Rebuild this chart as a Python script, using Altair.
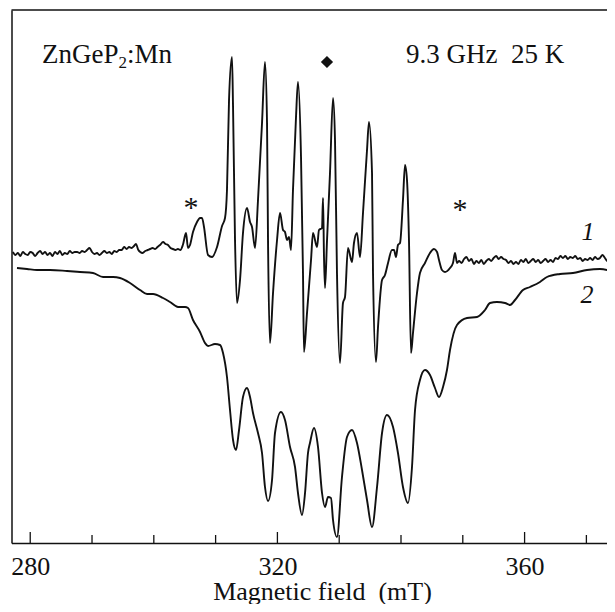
import altair as alt
import pandas as pd

# ---- data (field in mT, signal in arbitrary units) ----
curve1 = [
    (277.2, 0.8), (277.6, 0.5), (278.0, 0.7), (278.4, 0.4), (278.8, 0.8), (279.2, 0.6),
    (279.6, 0.5), (280.0, 0.8), (280.4, 0.7), (280.8, 0.4), (281.2, 0.7), (281.6, 0.9),
    (282.0, 0.6), (282.4, 0.8), (282.8, 0.5), (283.2, 0.7), (283.6, 0.4), (284.0, 0.8),
    (284.4, 0.6), (284.8, 0.9), (285.2, 0.5), (285.6, 0.7), (286.0, 0.6), (286.4, 0.9),
    (286.8, 0.7), (287.2, 0.8), (287.6, 0.8), (288.0, 0.7), (288.4, 0.9), (288.8, 0.8),
    (289.2, 1.0), (289.6, 1.2), (290.0, 0.8), (290.4, 0.6), (290.8, 0.7), (291.2, 0.5),
    (291.6, 0.7), (292.0, 0.9), (292.4, 0.7), (292.8, 0.8), (293.2, 0.6), (293.6, 0.9),
    (294.0, 0.8), (294.4, 1.0), (294.8, 1.0), (295.2, 1.3), (295.6, 1.1), (296.0, 1.3),
    (296.4, 1.2), (296.8, 1.4), (297.1, 1.6), (297.5, 1.0), (297.8, 0.8), (298.2, 0.7),
    (298.6, 0.9), (299.0, 1.0), (299.4, 1.1), (299.8, 1.2), (300.2, 1.1), (300.6, 1.3),
    (301.0, 1.5), (301.5, 1.8), (301.9, 1.6), (302.3, 1.5), (302.7, 1.2), (303.1, 1.1),
    (303.5, 1.0), (303.9, 1.1), (304.3, 1.0), (304.7, 1.5),
    (305.21, 2.7), (305.53, 1.2), (305.86, 1.5), (306.34, 2.8), (306.99, 3.8), (307.48, 4.2),
    (307.80, 4.2), (308.12, 3.3), (308.77, 0.5), (309.42, 0.3), (310.23, 1.3), (311.04, 3.4),
    (311.52, 4.2), (311.84, 7.0), (312.17, 16.0), (312.65, 20.3), (312.82, 15.3), (313.14, 2.0),
    (313.46, -4.3), (313.95, -2.0), (314.43, 2.7), (315.08, 5.2), (315.57, 3.8), (315.89, 3.3),
    (316.38, 1.2), (316.86, 6.0), (317.51, 13.7), (317.99, 19.8), (318.32, 13.7), (318.48, 2.0),
    (318.80, -8.3), (319.29, -3.3), (319.94, 2.0), (320.42, 4.7), (320.91, 3.0), (321.23, 2.8),
    (321.55, 2.0), (321.88, 2.3), (322.20, 1.0), (322.52, 7.0), (323.01, 14.3), (323.33, 17.8),
    (323.82, 10.3), (324.14, -1.3), (324.30, -9.2), (324.79, -5.3), (325.44, 0.0), (325.76, 2.7),
    (326.41, 1.3), (326.73, 3.0), (327.22, 3.2), (327.38, 6.2), (327.54, 0.3), (327.70, -2.8),
    (328.03, 2.0), (328.51, 8.7), (329.00, 16.2), (329.32, 12.0), (329.64, -1.3), (330.13, -10.3),
    (330.61, -4.3), (330.94, -3.7), (331.42, 1.2), (332.07, -0.2), (332.39, 1.7), (332.88, 2.7),
    (333.37, 0.3), (333.85, 4.7), (334.50, 11.0), (334.82, 13.8), (335.31, 8.7), (335.47, -1.3),
    (335.95, -10.2), (336.28, -6.7), (336.93, -2.0), (337.41, -1.5), (337.90, -0.3), (338.54, 1.0),
    (338.87, 1.0), (339.19, 0.3), (339.51, 1.5), (339.84, 1.7), (340.32, 6.0), (340.65, 9.5),
    (340.97, 8.0), (341.29, 2.0), (341.62, -9.3), (341.94, -7.3), (342.59, -3.3), (343.07, -1.3),
    (343.88, -0.3), (344.69, 0.7), (345.34, 1.1), (345.83, 0.8), (346.15, 0.0), (346.63, -1.0),
    (347.12, -1.2), (347.93, -0.8), (348.41, -0.3), (348.74, 0.7), (349.06, -0.3),
    (349.4, -0.1), (349.8, -0.3), (350.2, 0.1), (350.6, 0.3), (351.0, -0.1), (351.4, 0.1),
    (351.8, -0.4), (352.2, -0.1), (352.6, -0.3), (353.0, 0.0), (353.4, -0.4), (353.8, -0.1),
    (354.2, 0.1), (354.6, -0.1), (355.0, 0.2), (355.4, 0.4), (355.8, 0.1), (356.2, 0.3),
    (356.6, 0.1), (357.0, 0.0), (357.4, -0.3), (357.8, -0.1), (358.2, -0.4), (358.6, -0.2),
    (359.0, -0.4), (359.4, 0.0), (359.8, -0.2), (360.2, 0.1), (360.6, -0.3), (361.0, -0.1),
    (361.4, 0.1), (361.8, -0.2), (362.2, 0.0), (362.6, -0.3), (363.0, -0.1), (363.4, 0.1),
    (363.8, -0.2), (364.2, 0.0), (364.6, -0.2), (365.0, 0.2), (365.4, 0.1), (365.8, 0.4),
    (366.2, 0.2), (366.6, 0.4), (367.0, 0.1), (367.4, 0.3), (367.8, 0.2), (368.2, 0.4),
    (368.6, 0.1), (369.0, 0.2), (369.4, -0.1), (369.8, 0.1), (370.2, 0.0), (370.6, 0.2),
    (371.0, 0.0), (371.4, 0.3), (371.8, 0.1), (372.2, 0.2), (372.6, 0.5), (373.0, 0.2),
    (373.4, -0.1), (373.8, 0.1), (374.2, -0.2), (374.6, -0.1),
]

curve2 = [
    (277.86, -0.8), (279.48, -0.9), (281.10, -1.0), (283.20, -1.0), (285.95, -1.1),
    (288.06, -1.2), (290.16, -1.3), (291.78, -1.7), (293.40, -1.7), (294.53, -1.8),
    (296.15, -2.3), (297.77, -3.0), (298.90, -3.4), (299.87, -3.4), (301.49, -3.8),
    (302.62, -4.2), (303.92, -4.7), (305.05, -4.7), (305.53, -4.8), (306.34, -6.0),
    (307.48, -7.2), (308.28, -8.3), (308.77, -8.6), (309.90, -8.4), (310.71, -8.5),
    (311.20, -9.3), (311.84, -11.7), (312.33, -15.0), (312.82, -18.0), (313.30, -19.0),
    (313.79, -17.0), (314.43, -13.7), (315.08, -12.8), (315.57, -13.7), (316.05, -15.3),
    (316.86, -17.3), (317.51, -19.3), (317.99, -22.7), (318.48, -24.1), (319.13, -22.0),
    (319.61, -17.3), (320.58, -15.2), (321.23, -16.0), (322.04, -18.7), (322.85, -20.7),
    (323.33, -23.3), (323.98, -25.5), (324.47, -23.3), (324.95, -19.3), (325.27, -18.3),
    (325.92, -16.8), (326.57, -18.7), (327.22, -23.3), (327.70, -24.7), (328.19, -23.7),
    (328.67, -23.8), (329.00, -26.0), (329.64, -27.7), (330.45, -21.7), (331.26, -17.7),
    (332.07, -17.0), (332.88, -18.3), (333.69, -21.0), (334.50, -24.0), (335.31, -26.7),
    (336.12, -22.7), (336.93, -17.3), (337.73, -15.5), (338.71, -16.7), (339.51, -19.3),
    (340.32, -22.7), (341.13, -24.3), (341.78, -20.7), (342.27, -15.0), (343.07, -12.0),
    (343.88, -11.0), (344.69, -11.5), (345.50, -12.8), (346.15, -13.7), (346.80, -12.7),
    (347.44, -11.0), (347.93, -9.0), (349.06, -6.5), (350.68, -5.8), (352.30, -5.7),
    (353.59, -5.0), (354.40, -4.3), (355.53, -4.2), (356.83, -4.3), (357.64, -4.5),
    (358.45, -4.0), (359.74, -3.0), (360.87, -2.7), (362.49, -2.2), (363.62, -1.7),
    (365.73, -1.4), (367.83, -1.3), (370.10, -1.0), (372.20, -0.9), (373.82, -1.1),
    (374.63, -1.3),
]

major_ticks = [280, 320, 360]
minor_ticks = [290, 300, 310, 330, 340, 350, 370]

# annotations: (field, signal, text)
sample_label = [(281.91, 19.7, "ZnGeP")]
sample_sub = [(281.91, 19.7, "2")]
sample_tail = [(281.91, 19.7, ":Mn")]
conditions = [(340.81, 19.7, "9.3 GHz\u00a0 25 K")]
diamond = [(328.02, 19.8)]
asterisks = [(306.02, 4.3, "*"), (349.55, 4.1, "*")]
curve_labels = [(370.26, 2.0, "1"), (370.10, -4.3, "2")]

X_DOMAIN = [276.97, 374.63]
Y_DOMAIN = [-28.3, 25.0]
W, H = 603.5, 533
FONT = "Liberation Serif"
INK = "#111111"

df1 = pd.DataFrame(curve1, columns=["field", "signal"])
df2 = pd.DataFrame(curve2, columns=["field", "signal"])

xs = alt.Scale(domain=X_DOMAIN, nice=False, zero=False)
ys = alt.Scale(domain=Y_DOMAIN, nice=False, zero=False)

xaxis = alt.Axis(
    values=major_ticks, ticks=False, grid=False, format="d",
    labelFont=FONT, labelFontSize=26, labelColor=INK, labelPadding=10,
    domainColor=INK, domainWidth=1.5,
    titleFont=FONT, titleFontSize=26, titleFontWeight="normal", titleColor=INK,
    titleBaseline="alphabetic", titleY=56, titleX=310.5, titleAlign="center",
)
yaxis = alt.Axis(labels=False, ticks=False, grid=False, domainColor=INK, domainWidth=1.5)

X = alt.X("field:Q", scale=xs, axis=xaxis, title="Magnetic field\u00a0 (mT)")
Y = alt.Y("signal:Q", scale=ys, axis=yaxis, title=None)


def tdf(rows):
    return pd.DataFrame(rows, columns=["field", "signal", "label"])


line1 = alt.Chart(df1).mark_line(color=INK, strokeWidth=1.9, clip=True, strokeJoin="round",
                                 interpolate="monotone").encode(x=X, y=Y)
line2 = alt.Chart(df2).mark_line(color=INK, strokeWidth=1.9, clip=True, interpolate="monotone").encode(x=X, y=Y)

tick_major = alt.Chart(pd.DataFrame({"field": major_ticks})).mark_rule(color=INK, strokeWidth=1.3).encode(
    x=X, y=alt.value(H), y2=alt.value(H - 11))
tick_minor = alt.Chart(pd.DataFrame({"field": minor_ticks})).mark_rule(color=INK, strokeWidth=1.3).encode(
    x=X, y=alt.value(H), y2=alt.value(H - 8))
top_border = alt.Chart(pd.DataFrame({"a": [0]})).mark_rule(color=INK, strokeWidth=1.5).encode(
    x=alt.value(0), x2=alt.value(W), y=alt.value(0))

txt_kw = dict(font=FONT, color=INK, baseline="alphabetic")
t_sample = alt.Chart(tdf(sample_label)).mark_text(align="left", fontSize=27, **txt_kw).encode(x=X, y=Y, text="label:N")
t_sub = alt.Chart(tdf(sample_sub)).mark_text(align="left", fontSize=17, dx=76.5, dy=5, **txt_kw).encode(x=X, y=Y, text="label:N")
t_tail = alt.Chart(tdf(sample_tail)).mark_text(align="left", fontSize=27, dx=85, **txt_kw).encode(x=X, y=Y, text="label:N")
t_cond = alt.Chart(tdf(conditions)).mark_text(align="left", fontSize=27, **txt_kw).encode(x=X, y=Y, text="label:N")
t_ast = alt.Chart(tdf(asterisks)).mark_text(align="center", fontSize=30, **txt_kw).encode(x=X, y=Y, text="label:N")
t_curves = alt.Chart(tdf(curve_labels)).mark_text(align="center", fontSize=26, fontStyle="italic", **txt_kw).encode(
    x=X, y=Y, text="label:N")
p_diamond = alt.Chart(pd.DataFrame(diamond, columns=["field", "signal"])).mark_point(
    shape="diamond", filled=True, size=150, color=INK, opacity=1).encode(x=X, y=Y)

chart = alt.layer(
    line2, line1, tick_major, tick_minor, top_border,
    t_sample, t_sub, t_tail, t_cond, t_ast, t_curves, p_diamond,
).properties(
    width=W, height=H,
    autosize=alt.AutoSizeParams(type="none"),
    padding={"left": 3.5, "top": 2, "right": -8, "bottom": 61},
    background="white",
).configure_view(strokeWidth=0)

chart.save("out.html", embed_options={"renderer": "svg", "actions": False})
